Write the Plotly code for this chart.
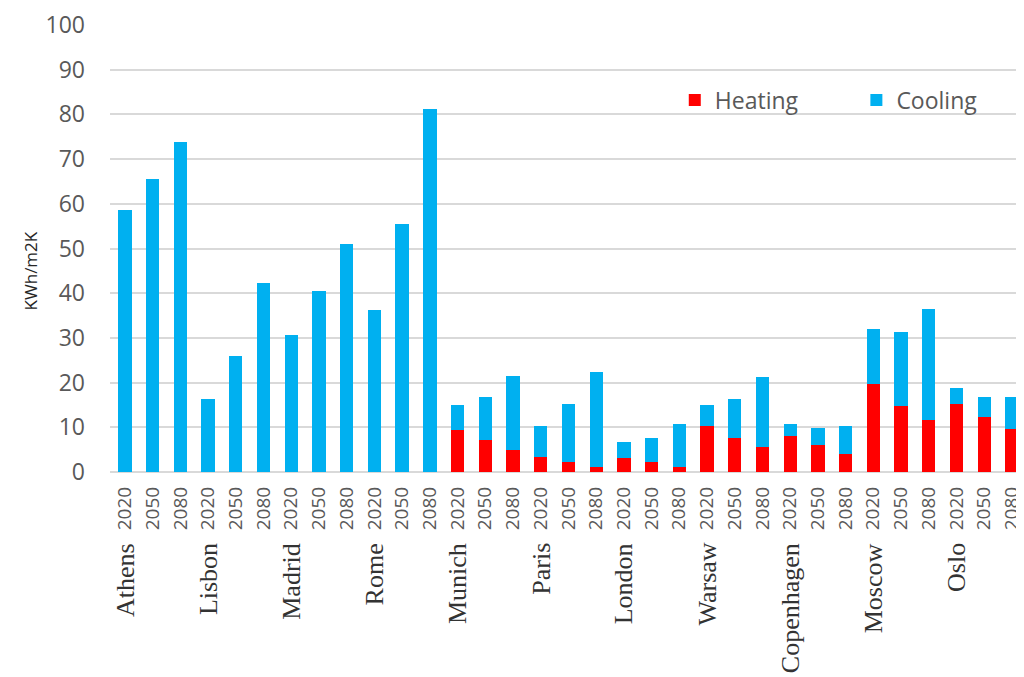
import plotly.graph_objects as go

cities = ["Athens", "Lisbon", "Madrid", "Rome", "Munich", "Paris", "London",
          "Warsaw", "Copenhagen", "Moscow", "Oslo"]
years = ["2020", "2050", "2080"]

heating = [0, 0, 0,   0, 0, 0,   0, 0, 0,   0, 0, 0,
           9.3, 7.1, 5.0,   3.4, 2.2, 1.1,   3.1, 2.2, 1.1,
           10.3, 7.7, 5.6,  8.1, 6.0, 4.1,   19.7, 14.8, 11.6,
           15.2, 12.3, 9.6]
cooling = [58.6, 65.6, 73.9,  16.4, 25.9, 42.3,  30.6, 40.4, 51.0,
           36.3, 55.5, 81.2,  5.6, 9.6, 16.5,  6.9, 13.0, 21.3,
           3.6, 5.3, 9.6,  4.7, 8.6, 15.7,  2.7, 3.9, 6.2,
           12.4, 16.5, 24.9,  3.5, 4.5, 7.2]

cats = [f"{c} {y}" for c in cities for y in years]
tick_text = [y for c in cities for y in years]

RED = "#FF0000"
BLUE = "#00B0F0"
GRAY = "#595959"
FONT = "Open Sans"

fig = go.Figure()
fig.add_trace(go.Bar(x=cats, y=heating, name="Heating", legend="legend",
                     marker=dict(color=RED, line=dict(width=0))))
fig.add_trace(go.Bar(x=cats, y=cooling, name="Cooling", legend="legend2",
                     marker=dict(color=BLUE, line=dict(width=0))))

annotations = []
for c in cities:
    annotations.append(dict(
        x=f"{c} 2020", y=0, xref="x", yref="paper", yshift=-69,
        text=c, textangle=-90, showarrow=False, xanchor="center", yanchor="top",
        font=dict(family="Liberation Serif", size=26, color="#333333")))
annotations.append(dict(
    x=-0.0875, y=45, xref="paper", yref="y", text="KWh/m2K", textangle=-90,
    showarrow=False, xanchor="center", yanchor="middle",
    font=dict(family=FONT, size=17, color="#262626")))

legend_common = dict(orientation="h", yanchor="middle", xanchor="left",
                     font=dict(family=FONT, size=23, color=GRAY),
                     bgcolor="rgba(0,0,0,0)")

fig.update_layout(
    width=1016, height=669,
    margin=dict(l=102, r=0, t=17, b=205),
    paper_bgcolor="white", plot_bgcolor="white",
    barmode="stack", bargap=0.52,
    font=dict(family=FONT, color=GRAY),
    showlegend=True,
    legend=dict(x=0.622, y=0.832, **legend_common),
    legend2=dict(x=0.822, y=0.832, **legend_common),
    annotations=annotations,
)
fig.update_xaxes(
    type="category", categoryorder="array", categoryarray=cats,
    tickmode="array", tickvals=cats, ticktext=tick_text, tickangle=-90,
    tickfont=dict(family=FONT, size=19, color=GRAY), ticks="", showline=False, showgrid=False,
    range=[-0.54, 32.22], ticklabelstandoff=10,
)
fig.update_yaxes(
    range=[0, 100], tickmode="array", tickvals=list(range(0, 101, 10)),
    tickfont=dict(family=FONT, size=23, color=GRAY), showgrid=True, gridcolor="#D9D9D9", gridwidth=2,
    zeroline=True, zerolinecolor="#D9D9D9", zerolinewidth=2, ticks="",
    ticklabelstandoff=24,
)

fig.write_html("out.html")
